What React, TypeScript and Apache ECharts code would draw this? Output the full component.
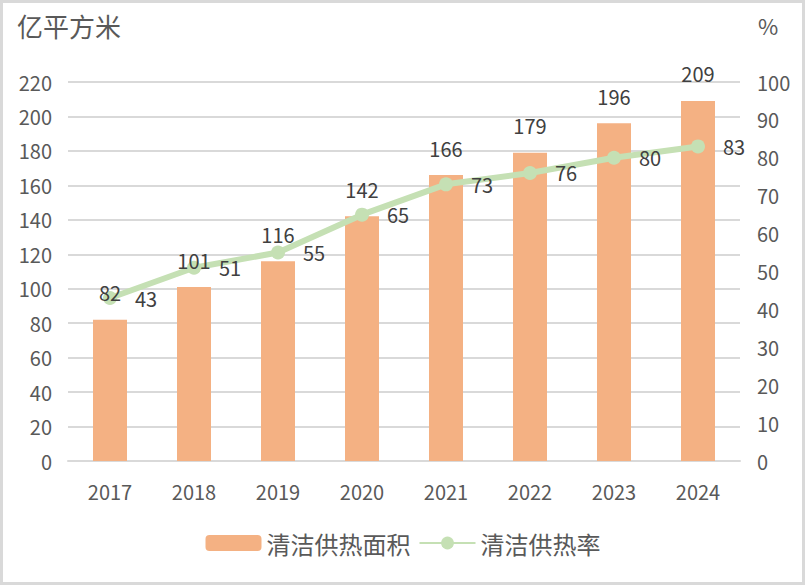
import React, { useEffect, useRef } from "react";
import * as echarts from "echarts";

const years = ["2017", "2018", "2019", "2020", "2021", "2022", "2023", "2024"];
const areaValues = [82, 101, 116, 142, 166, 179, 196, 209];
const rateValues = [43, 51, 55, 65, 73, 76, 80, 83];
const seriesNames = ["清洁供热面积", "清洁供热率"];
const leftUnit = "亿平方米";
const rightUnit = "%";

const FONT = "'Noto Sans CJK SC', 'Noto Sans', sans-serif";

export default function App() {
  const ref = useRef<HTMLDivElement>(null);
  useEffect(() => {
    if (!ref.current) return;
    const chart = echarts.init(ref.current, null, { renderer: "svg" });
    chart.setOption({
      animation: false,
      backgroundColor: "#ffffff",
      textStyle: { fontFamily: FONT },
      grid: { left: 68, right: 66, top: 82, bottom: 125, containLabel: false },
      legend: {
        bottom: 26,
        left: "center",
        itemWidth: 56,
        itemHeight: 16,
        itemGap: 8,
        textStyle: { fontSize: 24, color: "#595959", fontFamily: FONT },
        data: seriesNames,
      },
      graphic: [
        {
          type: "rect",
          shape: { x: 1.5, y: 1.5, width: 802, height: 582 },
          style: { fill: "none", stroke: "#d9d9d9", lineWidth: 3 },
          silent: true,
        },
        {
          type: "text",
          left: 17,
          top: 12,
          style: { text: leftUnit, fontSize: 26, fill: "#595959", fontFamily: FONT },
        },
        {
          type: "text",
          left: 758,
          top: 14,
          style: { text: rightUnit, fontSize: 22, fill: "#595959", fontFamily: FONT },
        },
      ],
      xAxis: {
        type: "category",
        data: years,
        axisLine: { show: true, lineStyle: { color: "#d9d9d9", width: 2 } },
        axisTick: { show: false },
        axisLabel: { color: "#595959", fontSize: 20, margin: 20, fontFamily: FONT },
      },
      yAxis: [
        {
          type: "value",
          min: 0,
          max: 220,
          interval: 20,
          axisLine: { show: false },
          axisTick: { show: false },
          splitLine: { lineStyle: { color: "#d9d9d9", width: 2 } },
          axisLabel: { color: "#595959", fontSize: 20, margin: 16, fontFamily: FONT },
        },
        {
          type: "value",
          min: 0,
          max: 100,
          interval: 10,
          axisLine: { show: false },
          axisTick: { show: false },
          splitLine: { show: false },
          axisLabel: { color: "#595959", fontSize: 20, margin: 17, fontFamily: FONT },
        },
      ],
      series: [
        {
          name: seriesNames[0],
          type: "bar",
          data: areaValues,
          barWidth: 34,
          z: 2,
          itemStyle: { color: "#F4B183" },
        },
        {
          name: seriesNames[1],
          type: "line",
          yAxisIndex: 1,
          data: rateValues,
          z: 3,
          symbol: "circle",
          symbolSize: 14,
          lineStyle: { color: "#C5E0B4", width: 6 },
          itemStyle: { color: "#C5E0B4" },
          label: {
            show: true,
            position: "right",
            distance: 18,
            color: "#404040",
            fontSize: 20,
            fontFamily: FONT,
          },
        },
        {
          name: "barLabels",
          type: "bar",
          data: areaValues,
          barWidth: 34,
          barGap: "-100%",
          z: 5,
          silent: true,
          itemStyle: { color: "rgba(0,0,0,0)" },
          label: {
            show: true,
            position: "top",
            distance: 17,
            color: "#404040",
            fontSize: 20,
            fontFamily: FONT,
          },
        },
      ],
    });
    return () => chart.dispose();
  }, []);
  return (
    <div
      ref={ref}
      style={{ position: "absolute", left: 0, top: 0, width: 806, height: 586 }}
    />
  );
}
